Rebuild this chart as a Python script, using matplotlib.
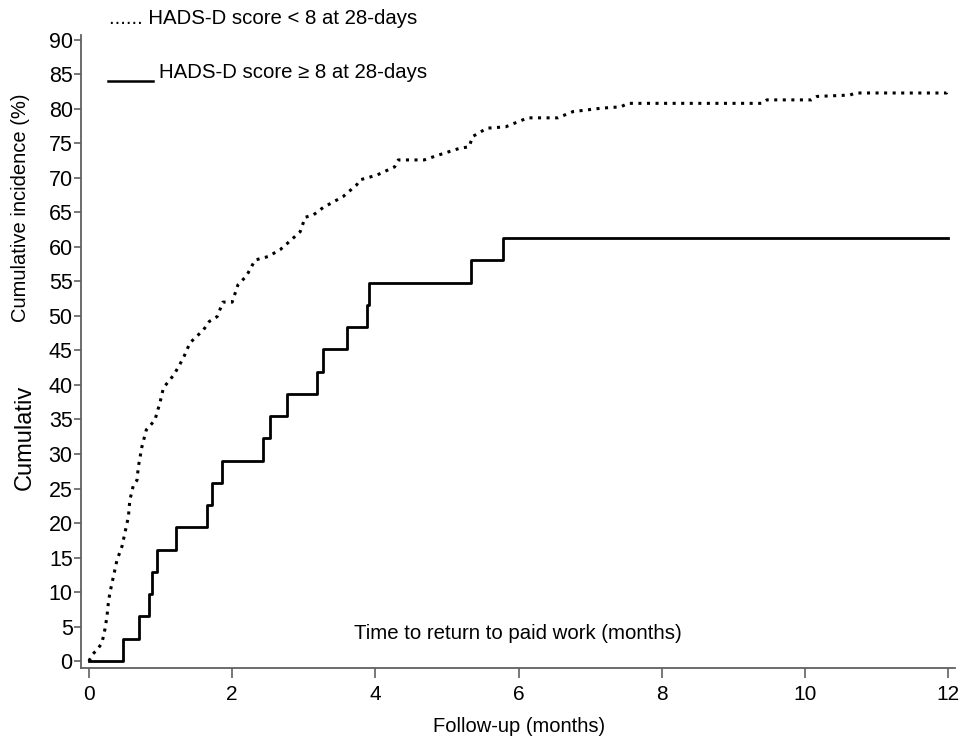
import matplotlib
matplotlib.use("Agg")
import matplotlib.pyplot as plt
from matplotlib.lines import Line2D

plt.rcParams['font.family'] = ['Liberation Sans', 'DejaVu Sans']

# HADS-D score < 8 at 28 days (dotted)
low_months = [0, 0.04, 0.11, 0.18, 0.22, 0.25, 0.27, 0.29, 0.34, 0.39, 0.46, 0.50,
              0.55, 0.57, 0.62, 0.67, 0.69, 0.74, 0.80, 0.92, 0.99, 1.04, 1.18, 1.26,
              1.33, 1.41, 1.50, 1.60, 1.68, 1.79, 1.87, 2.00, 2.08, 2.20, 2.32, 2.50,
              2.67, 2.78, 2.95, 3.02, 3.13, 3.27, 3.55, 3.74, 3.78, 4.02, 4.27, 4.32,
              4.68, 4.88, 5.18, 5.31, 5.36, 5.56, 5.82, 6.13, 6.55, 6.76, 7.16, 7.43,
              7.53, 9.40, 9.47, 10.09, 10.17, 10.63, 10.71, 11.98, 12.0]
low_incidence = [0, 0.9, 1.6, 2.6, 4.5, 6.4, 8.4, 9.8, 12.2, 14.6, 16.6, 18.5,
                 20.9, 23.3, 25.5, 26.2, 28.2, 31.1, 33.5, 34.9, 37.4, 39.6, 41.4, 42.8,
                 44.2, 46.1, 47.0, 48.0, 49.2, 49.9, 52.0, 52.0, 54.5, 55.8, 58.1, 58.6,
                 59.6, 60.6, 62.2, 64.3, 64.6, 65.7, 67.3, 69.0, 69.7, 70.4, 71.6, 72.6,
                 72.6, 73.3, 74.3, 74.5, 76.0, 77.2, 77.4, 78.7, 78.7, 79.6, 80.1, 80.3,
                 80.8, 80.8, 81.3, 81.3, 81.8, 82.0, 82.3, 82.3, 82.9]

# HADS-D score >= 8 at 28 days (solid)
high_months = [0, 0.47, 0.70, 0.84, 0.875, 0.945, 1.22, 1.65, 1.72, 1.86, 2.43, 2.53,
               2.77, 3.18, 3.27, 3.60, 3.88, 3.91, 5.33, 5.78, 12.0]
high_incidence = [0, 3.2, 6.5, 9.7, 12.9, 16.1, 19.4, 22.6, 25.8, 29.0, 32.3, 35.5,
                  38.7, 41.9, 45.2, 48.4, 51.6, 54.8, 58.1, 61.3, 61.3]

x_ticks = [0, 2, 4, 6, 8, 10, 12]
y_ticks = list(range(0, 95, 5))

fig = plt.figure(figsize=(9.64, 7.43), dpi=100)
ax = fig.add_axes([81 / 964, 75 / 743, 874 / 964, 633 / 743])

ax.step(high_months, high_incidence, where='post', color='black', lw=2.0)
ax.plot(low_months, low_incidence, color='black', lw=2.2,
        linestyle=(0, (1, 1.8)))

ax.set_xlim(-0.112, 12.098)
ax.set_ylim(-1.0, 90.7)
ax.set_xticks(x_ticks)
ax.set_yticks(y_ticks)

for s in ['top', 'right']:
    ax.spines[s].set_visible(False)
for s in ['left', 'bottom']:
    ax.spines[s].set_color('#606060')
    ax.spines[s].set_linewidth(1.3)

ax.tick_params(axis='x', length=7, width=1.2, color='#606060', labelsize=15, pad=5)
ax.tick_params(axis='y', length=5, width=1.2, color='#606060', labelsize=15.5, pad=1)

ax.text(0.5, 0.055, 'Time to return to paid work (months)', transform=ax.transAxes,
        ha='center', va='center', fontsize=14.7)

fig.text(519 / 964, 1 - 726 / 743, 'Follow-up (months)', ha='center', va='center',
         fontsize=14.5)

# y labels as in the original (one small, one larger and cut off)
fig.text(21 / 964, 1 - 208 / 743, 'Cumulative incidence (%)', rotation=90,
         ha='center', va='center', fontsize=14.5)
fig.text(25 / 964, 1 - 437 / 743, 'Cumulativ', rotation=90,
         ha='center', va='center', fontsize=17)

# legend
fig.text(109 / 964, 1 - 18 / 743, '...... HADS-D score < 8 at 28-days',
         ha='left', va='center', fontsize=14.7)
fig.add_artist(Line2D([108 / 964, 153 / 964], [1 - 81 / 743, 1 - 81 / 743],
                      transform=fig.transFigure, color='black', lw=1.8))
fig.text(159 / 964, 1 - 72 / 743, 'HADS-D score \u2265 8 at 28-days',
         ha='left', va='center', fontsize=14.7)

fig.savefig('out.png', dpi=100)
